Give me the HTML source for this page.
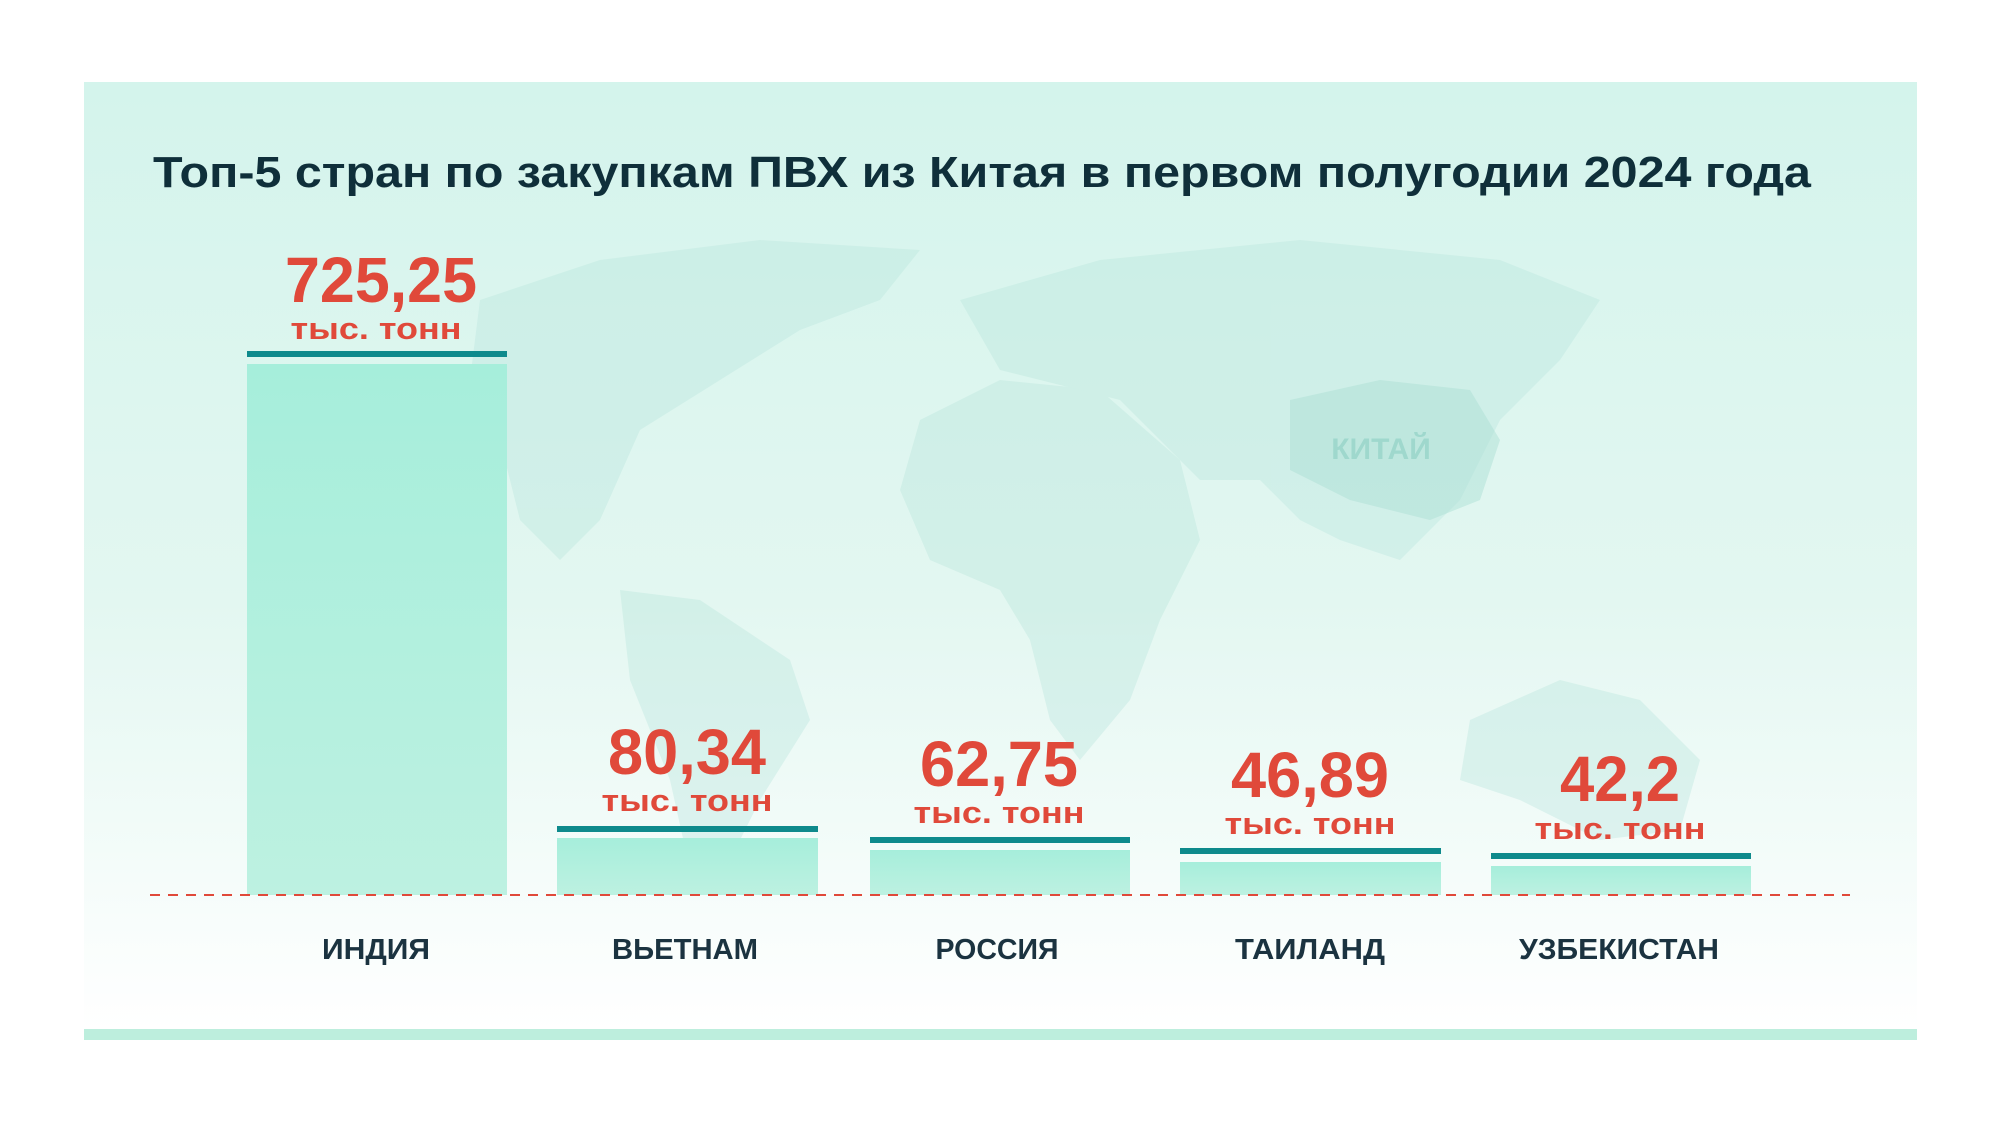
<!DOCTYPE html>
<html><head><meta charset="utf-8"><style>
html,body{margin:0;padding:0;background:#fff;width:2000px;height:1125px;overflow:hidden}
svg{display:block}
text{font-family:"Liberation Sans",sans-serif;font-weight:bold}
</style></head><body>
<svg width="2000" height="1125" viewBox="0 0 2000 1125" xmlns="http://www.w3.org/2000/svg">
<defs>
<linearGradient id="bg" x1="0" y1="0" x2="0" y2="1">
<stop offset="0" stop-color="#d4f4ec"/><stop offset="0.55" stop-color="#e3f7f1"/><stop offset="1" stop-color="#ffffff"/>
</linearGradient>
<linearGradient id="bar" x1="0" y1="0" x2="0" y2="1">
<stop offset="0" stop-color="#a6eedb"/><stop offset="1" stop-color="#bdf1e1"/>
</linearGradient>
</defs>
<rect x="0" y="0" width="2000" height="1125" fill="#fff"/>
<rect x="84" y="82" width="1833" height="948" fill="url(#bg)"/>
<!-- rough map -->
<g fill="#b9e6dc" opacity="0.38">
<path d="M480 300 L600 260 L760 240 L920 250 L880 300 L800 330 L720 380 L640 430 L600 520 L560 560 L520 520 L500 440 L470 380 Z"/>
<path d="M620 590 L700 600 L790 660 L810 720 L760 800 L720 880 L690 870 L670 780 L630 680 Z"/>
<path d="M920 420 L1000 380 L1100 390 L1180 460 L1200 540 L1160 620 L1130 700 L1080 760 L1050 720 L1030 640 L1000 590 L930 560 L900 490 Z"/>
<path d="M960 300 L1100 260 L1300 240 L1500 260 L1600 300 L1560 360 L1500 420 L1460 500 L1400 560 L1340 540 L1300 520 L1260 480 L1200 480 L1120 400 L1000 370 Z"/>
<path d="M1470 720 L1560 680 L1640 700 L1700 760 L1680 830 L1600 840 L1520 800 L1460 780 Z"/>
</g>
<path d="M1290 400 L1380 380 L1470 390 L1500 440 L1480 500 L1430 520 L1350 500 L1290 470 Z" fill="#a9ddd2" opacity="0.45"/>
<text x="1381" y="459" font-size="30" fill="#9fd8cd" text-anchor="middle">КИТАЙ</text>

<text x="153" y="187" font-size="44" fill="#0f2f3a" textLength="1658" lengthAdjust="spacingAndGlyphs">Топ-5 стран по закупкам ПВХ из Китая в первом полугодии 2024 года</text>

<!-- bars -->
<g fill="url(#bar)">
<rect x="247" y="364" width="260" height="531"/>
<rect x="557" y="838" width="261" height="57"/>
<rect x="870" y="850" width="260" height="45"/>
<rect x="1180" y="862" width="261" height="33"/>
<rect x="1491" y="866" width="260" height="29"/>
</g>
<g fill="#0e8a8c">
<rect x="247" y="351" width="260" height="6"/>
<rect x="557" y="826" width="261" height="6"/>
<rect x="870" y="837" width="260" height="6"/>
<rect x="1180" y="848" width="261" height="6"/>
<rect x="1491" y="853" width="260" height="6"/>
</g>
<line x1="150" y1="895" x2="1850" y2="895" stroke="#e0493a" stroke-width="2" stroke-dasharray="10,8"/>

<g fill="#e0493a" text-anchor="middle">
<text x="381" y="302" font-size="64" textLength="192" lengthAdjust="spacingAndGlyphs">725,25</text>
<text x="376" y="339" font-size="31" textLength="171" lengthAdjust="spacingAndGlyphs">тыс. тонн</text>
<text x="687" y="774" font-size="64" textLength="158" lengthAdjust="spacingAndGlyphs">80,34</text>
<text x="687" y="811" font-size="31" textLength="171" lengthAdjust="spacingAndGlyphs">тыс. тонн</text>
<text x="999" y="786" font-size="64" textLength="158" lengthAdjust="spacingAndGlyphs">62,75</text>
<text x="999" y="823" font-size="31" textLength="171" lengthAdjust="spacingAndGlyphs">тыс. тонн</text>
<text x="1310" y="797" font-size="64" textLength="158" lengthAdjust="spacingAndGlyphs">46,89</text>
<text x="1310" y="834" font-size="31" textLength="171" lengthAdjust="spacingAndGlyphs">тыс. тонн</text>
<text x="1620" y="801" font-size="64" textLength="120" lengthAdjust="spacingAndGlyphs">42,2</text>
<text x="1620" y="839" font-size="31" textLength="171" lengthAdjust="spacingAndGlyphs">тыс. тонн</text>
</g>

<g fill="#1b3340" text-anchor="middle" font-size="29">
<text x="376" y="959" textLength="108" lengthAdjust="spacingAndGlyphs">ИНДИЯ</text>
<text x="685" y="959" textLength="146" lengthAdjust="spacingAndGlyphs">ВЬЕТНАМ</text>
<text x="997" y="959" textLength="123" lengthAdjust="spacingAndGlyphs">РОССИЯ</text>
<text x="1310" y="959" textLength="150" lengthAdjust="spacingAndGlyphs">ТАИЛАНД</text>
<text x="1619" y="959" textLength="200" lengthAdjust="spacingAndGlyphs">УЗБЕКИСТАН</text>
</g>

<rect x="84" y="1029" width="1833" height="11" fill="#bdeedd"/>
</svg>
</body></html>
